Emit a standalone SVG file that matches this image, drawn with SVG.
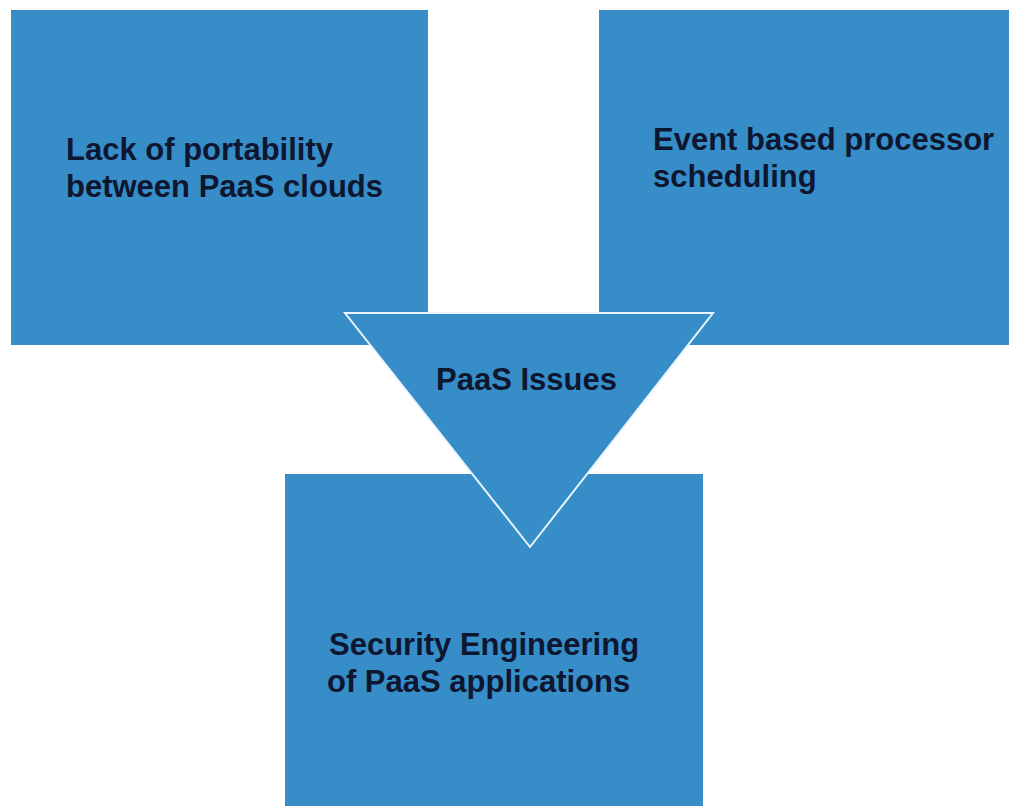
<svg xmlns="http://www.w3.org/2000/svg" width="1009" height="806" viewBox="0 0 1009 806">
<style>
.box{fill:#368dc7;}
.tri{fill:#368dc7;stroke:#e8f4ff;stroke-width:2;stroke-linejoin:miter;}
.lbl{font-family:"Liberation Sans",Arial,sans-serif;font-weight:bold;font-size:31px;fill:#0e1630;}
</style>
<rect width="1009" height="806" fill="#ffffff"/>
<g id="node-portability">
<rect class="box" x="11" y="10" width="417" height="335"/>
<text class="lbl" x="66" y="160">Lack of portability</text>
<text class="lbl" x="66" y="197">between PaaS clouds</text>
</g>
<g id="node-scheduling">
<rect class="box" x="599" y="10" width="420" height="335"/>
<text class="lbl" x="653" y="150">Event based processor</text>
<text class="lbl" x="653" y="187">scheduling</text>
</g>
<g id="node-security">
<rect class="box" x="285" y="474" width="418" height="340"/>
<text class="lbl" x="329" y="655">Security Engineering</text>
<text class="lbl" x="327" y="692">of PaaS applications</text>
</g>
<g id="connectors"></g>
<g id="node-paas-issues">
<polygon class="tri" points="345,313 713,313 530,547"/>
<text class="lbl" x="436" y="390">PaaS Issues</text>
</g>
</svg>
